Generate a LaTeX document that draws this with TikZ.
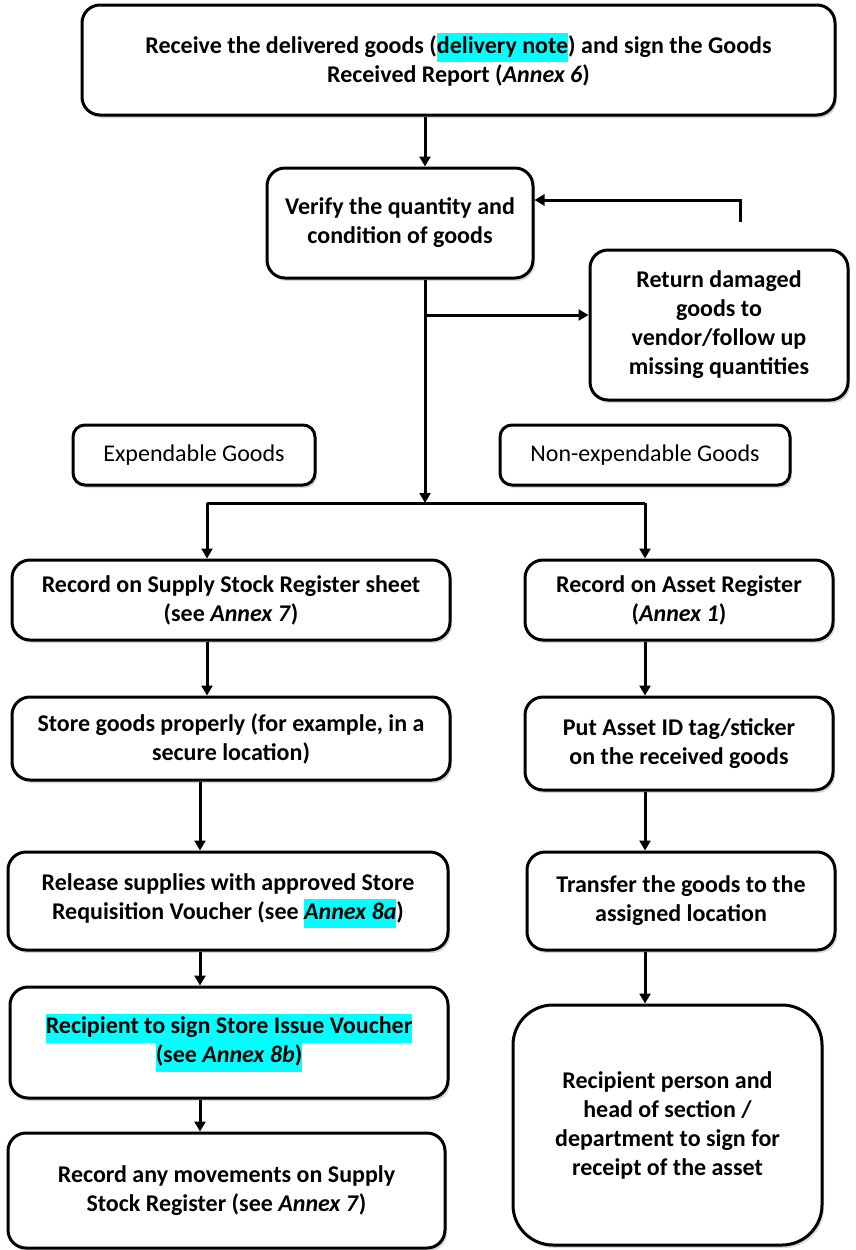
\documentclass[tikz,border=0pt]{standalone}
\usepackage{fontspec}
\setmainfont{Carlito}
\usetikzlibrary{arrows.meta,shadows}
\definecolor{hl}{RGB}{0,255,255}
\newcommand{\hlc}[1]{{\setlength{\fboxsep}{0pt}\colorbox{hl}{\strut #1}}}
\tikzset{
  box/.style={draw, line width=3pt, rounded corners=18pt, fill=white, align=center,
    font=\fontsize{24}{29}\selectfont\bfseries, inner sep=0pt,
    drop shadow={shadow xshift=2pt, shadow yshift=-3pt, opacity=0.3, fill=gray}},
  catbox/.style={box, font=\fontsize{24}{29}\selectfont, rounded corners=12pt},
  arr/.style={line width=3pt, -{Triangle[length=10pt,width=11pt]}},
  ln/.style={line width=3pt},
}
\begin{document}
\begin{tikzpicture}[x=1pt,y=-1pt]
\useasboundingbox (0,0) rectangle (856,1250);
% nodes
\node[box, minimum width=753pt, minimum height=110pt] (top) at (458.5,60)
  {Receive the delivered goods (\hlc{delivery note}) and sign the Goods\\Received Report (\textit{Annex 6})};
\node[box, minimum width=266pt, minimum height=110pt] (verify) at (400,223)
  {Verify the quantity and\\condition of goods};
\node[box, minimum width=258pt, minimum height=150pt] (ret) at (719,325)
  {Return damaged\\goods to\\vendor/follow up\\missing quantities};
\node[catbox, minimum width=242pt, minimum height=60pt] (exp) at (194,455)
  {Expendable Goods};
\node[catbox, minimum width=290pt, minimum height=60pt] (nonexp) at (645,455)
  {Non-expendable Goods};
\node[box, minimum width=438pt, minimum height=80pt] (L1) at (231,600)
  {Record on Supply Stock Register sheet\\(see \textit{Annex 7})};
\node[box, minimum width=308pt, minimum height=80pt] (R1) at (679,600)
  {Record on Asset Register\\(\textit{Annex 1})};
\node[box, minimum width=438pt, minimum height=83pt] (L2) at (231,738.5)
  {Store goods properly (for example, in a\\secure location)};
\node[box, minimum width=308pt, minimum height=93pt] (R2) at (679,743.5)
  {Put Asset ID tag/sticker\\on the received goods};
\node[box, minimum width=440pt, minimum height=98pt] (L3) at (228,901)
  {Release supplies with approved Store\\Requisition Voucher (see \hlc{\textit{Annex 8a}})};
\node[box, minimum width=308pt, minimum height=98pt] (R3) at (681,901)
  {Transfer the goods to the\\assigned location};
\node[box, minimum width=438pt, minimum height=111pt] (L4) at (229,1042.5)
  {\hlc{Recipient to sign Store Issue Voucher}\\\hlc{(see \textit{Annex 8b})}};
\node[box, minimum width=309pt, minimum height=240pt, rounded corners=40pt] (R4) at (667.5,1125)
  {Recipient person and\\head of section /\\department to sign for\\receipt of the asset};
\node[box, minimum width=437pt, minimum height=115pt] (L5) at (226.5,1190.5)
  {Record any movements on Supply\\Stock Register (see \textit{Annex 7})};
% coordinates
\coordinate (c1) at (425,0);
\coordinate (fb) at (740,222);
\coordinate (fbtop) at (740,200);
\coordinate (split) at (425,315);
\coordinate (br) at (425,503);
\coordinate (brL) at (207,503);
\coordinate (brR) at (645,503);
\coordinate (cL) at (200,0);
% connectors
\draw[arr] (top.south -| c1) -- (verify.north -| c1);
\draw[arr] (fb) |- (verify.east |- fbtop);
\draw[ln] (verify.south -| c1) -- (split);
\draw[arr] (split) -- (ret.west |- split);
\draw[arr] (split) -- (br);
\draw[ln] (brL) -- (brR);
\draw[arr] (brL) -- (L1.north -| brL);
\draw[arr] (brR) -- (R1.north -| brR);
\draw[arr] (L1.south -| brL) -- (L2.north -| brL);
\draw[arr] (L2.south -| cL) -- (L3.north -| cL);
\draw[arr] (L3.south -| cL) -- (L4.north -| cL);
\draw[arr] (L4.south -| cL) -- (L5.north -| cL);
\draw[arr] (R1.south -| brR) -- (R2.north -| brR);
\draw[arr] (R2.south -| brR) -- (R3.north -| brR);
\draw[arr] (R3.south -| brR) -- (R4.north -| brR);
\end{tikzpicture}
\end{document}
